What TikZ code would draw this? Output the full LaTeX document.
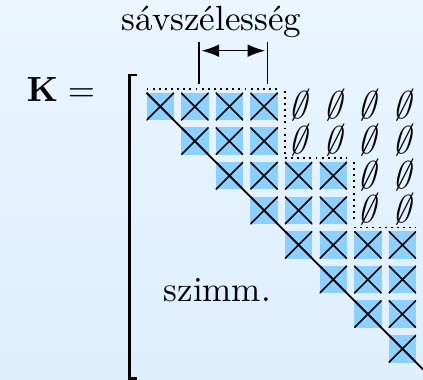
\documentclass[tikz,border=0pt]{standalone}
\usetikzlibrary{arrows.meta,calc}
\definecolor{bgtop}{RGB}{234,245,255}
\definecolor{bgbot}{RGB}{222,239,254}
\definecolor{cellblue}{RGB}{140,208,255}
\newcommand{\slantempty}{\tikz[baseline]\node[inner sep=0pt, anchor=base, xslant=0.26, xscale=0.95, yscale=1.1, transform shape]{$\emptyset$};}
\begin{document}
\begin{tikzpicture}[x=0.2857pt,y=-0.2857pt,
  cell/.style={minimum size=7.857pt, inner sep=0pt, outer sep=0pt, fill=cellblue,
    path picture={\draw[line width=0.45pt]
      (path picture bounding box.north west) -- (path picture bounding box.south east)
      (path picture bounding box.north east) -- (path picture bounding box.south west);}},
  zero/.style={inner sep=0pt},
  band/.style={line width=0.45pt, dash pattern=on 0.55pt off 1.2pt},
  thinline/.style={line width=0.4pt},
  bwarrow/.style={line width=0.45pt, {Latex[length=5pt,width=3.6pt]}-{Latex[length=5pt,width=3.6pt]}},
  lbl/.style={anchor=base west, inner sep=0pt}]
\fill[top color=bgtop, bottom color=bgbot] (0,0) rectangle (423,380);
\useasboundingbox (0,0) rectangle (423,380);
% cells
\foreach \r/\cs in {1/{1,2,3,4},2/{2,3,4},3/{3,4,5,6},4/{4,5,6},5/{5,6,7,8},6/{6,7,8},7/{7,8},8/{8}}
  \foreach \c in \cs
    \node[cell] (c-\r-\c) at ({160.25+34.6*(\c-1)},{106.55+34.6*(\r-1)}) {};
% zeros
\foreach \r/\cs in {1/{5,6,7,8},2/{5,6,7,8},3/{7,8},4/{7,8}}
  \foreach \c in \cs
    \node[zero] (z-\r-\c) at ({163.0+34.6*(\c-1)},{105.5+34.6*(\r-1)}) {\slantempty};
% band borders
\draw[band] ($(c-1-1.north west)+(0,-3.8)$) -- ($(c-1-4.north east)+(0,-3.8)$);
\draw[band] ($(c-1-4.north east)+(7,-2)$) -- ($(c-2-4.south east)+(7,-1)$);
\draw[band] ($(c-3-5.north west)+(0,-3.8)$) -- ($(c-3-6.north east)+(0,-3.8)$);
\draw[band] ($(c-3-6.north east)+(7,-0)$) -- ($(c-4-6.south east)+(7,-1)$);
\draw[band] ($(c-5-7.north west)+(0,-3.8)$) -- ($(c-5-8.north east)+(0,-3.8)$);
% diagonal
\draw[line width=0.5pt] (c-1-1.north west) -- ($(c-8-8.south east)+(7,7)$);
% bracket
\coordinate (bt) at (137.3,75);
\coordinate (bb) at (137.3,378.7);
\draw[line width=0.75pt, line join=miter] (bt) -- (129.2,75) -- (129.2,378.7) -- (bb);
% bandwidth marker
\coordinate (l1a) at (199,41.7); \coordinate (l1b) at (199,84);
\coordinate (l2a) at (267.7,41.7); \coordinate (l2b) at (267.7,84);
\draw[thinline] (l1a) -- (l1b);
\draw[thinline] (l2a) -- (l2b);
\coordinate (aa) at (201.5,50.7); \coordinate (ab) at (265.2,50.7);
\draw[bwarrow] (aa) -- (ab);
% labels
\node[lbl] (bw) at (121,31) {sávszélesség};
\node[lbl] (K) at (26,101.5) {$\mathbf{K} =$};
\node[lbl] (sz) at (163,301.5) {szimm.};
\end{tikzpicture}
\end{document}
